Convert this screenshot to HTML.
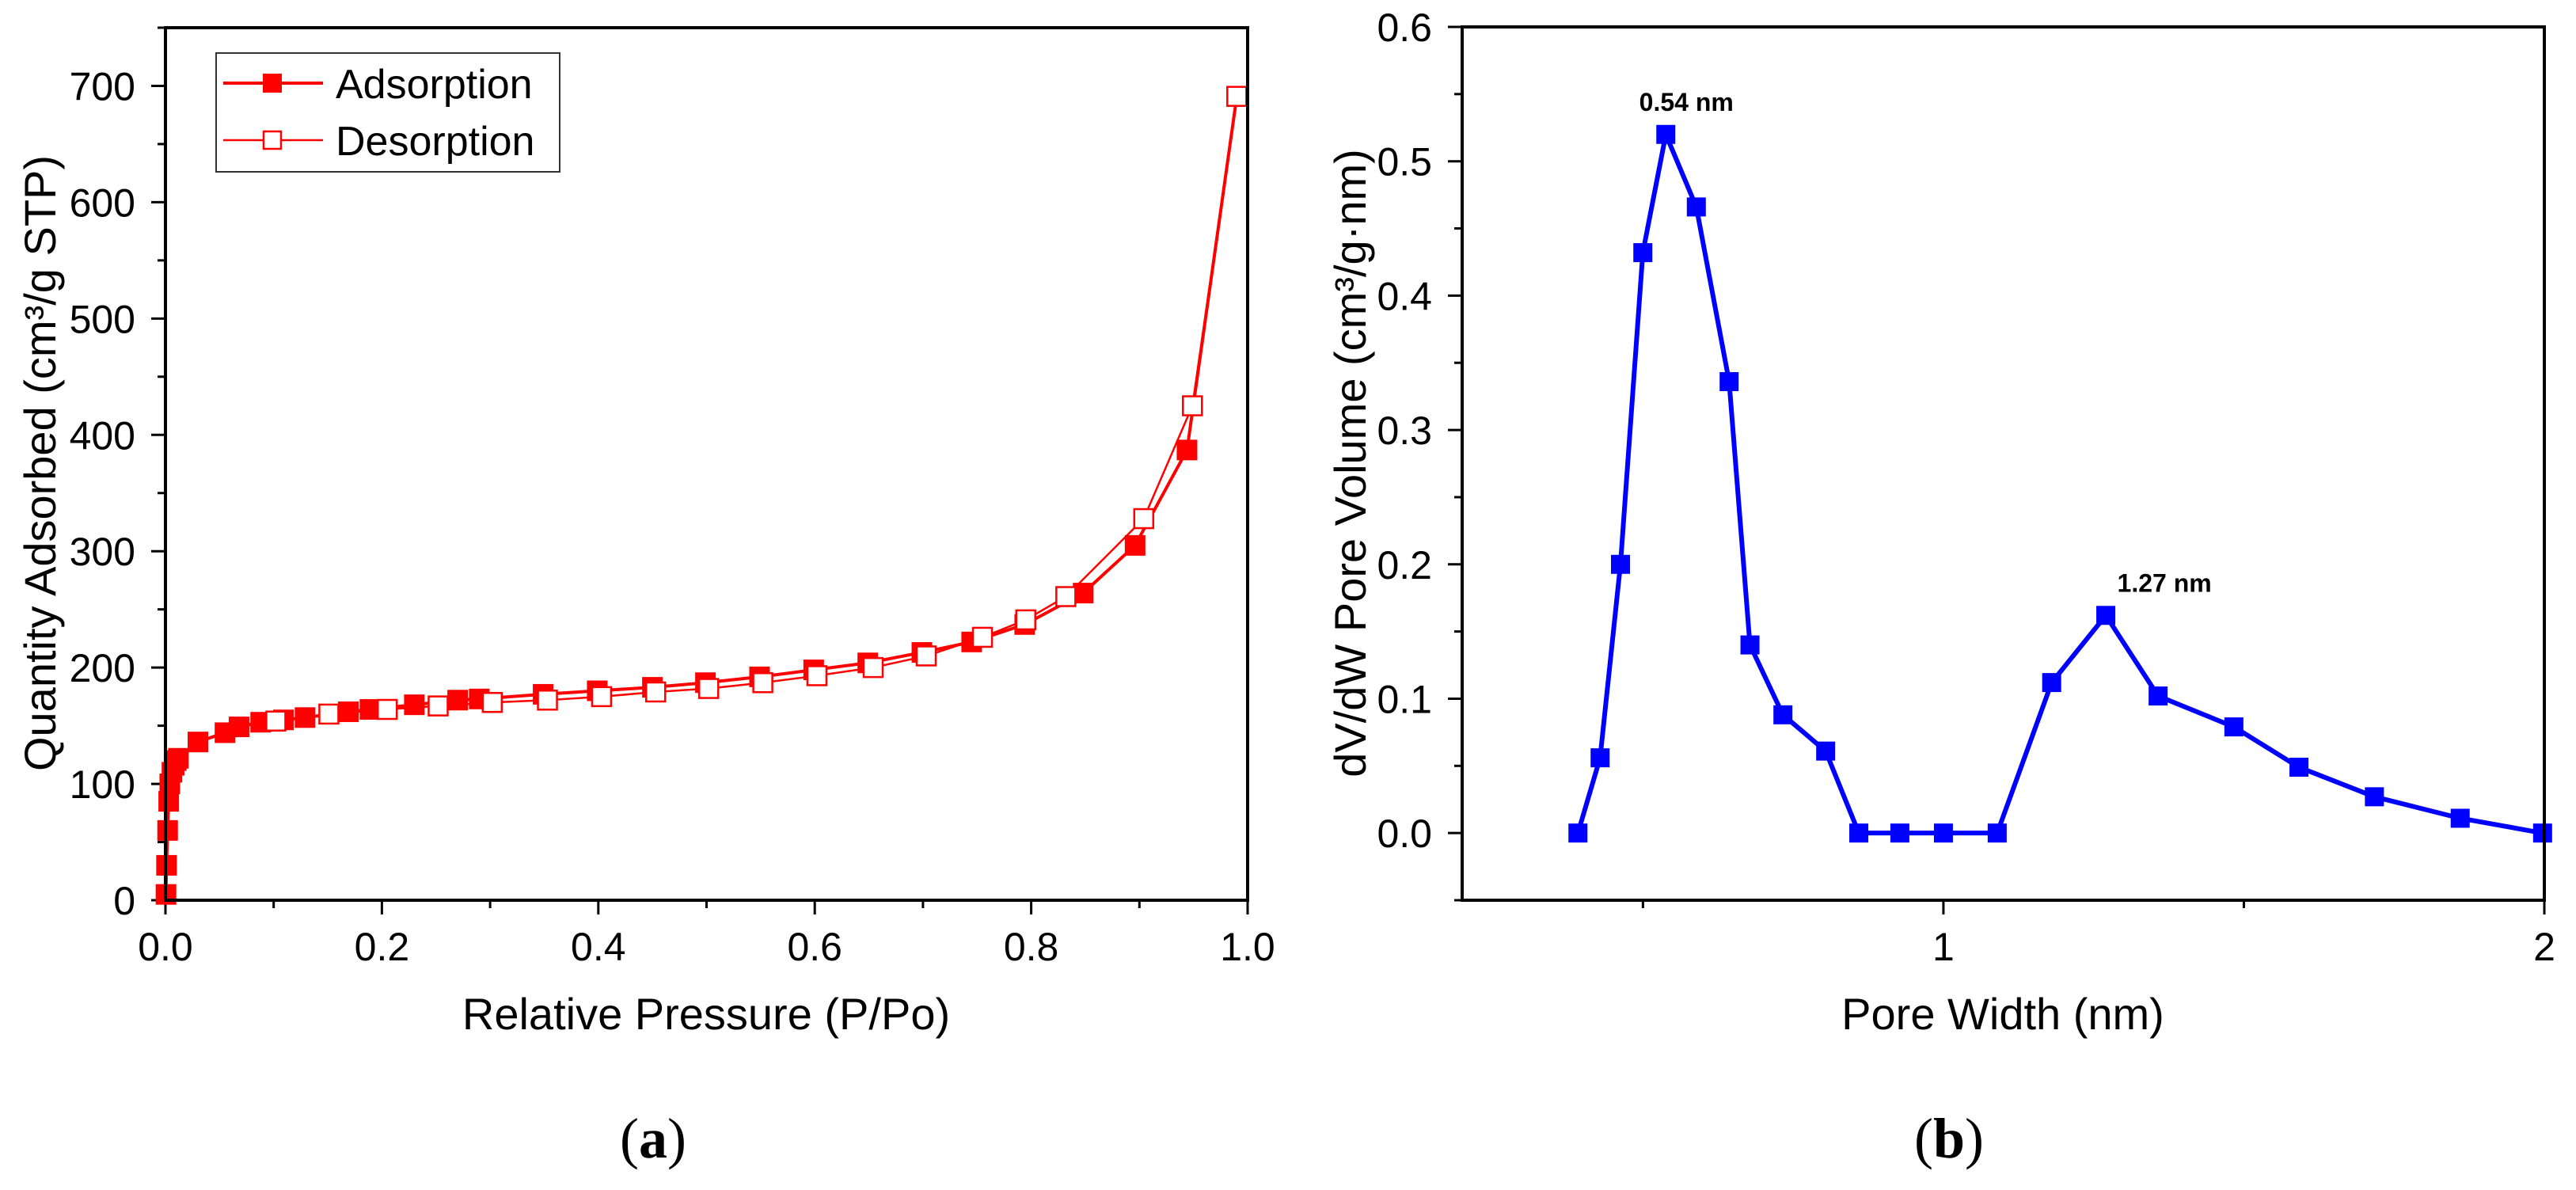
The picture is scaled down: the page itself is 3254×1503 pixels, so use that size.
<!DOCTYPE html>
<html><head><meta charset="utf-8"><style>
html,body{margin:0;padding:0;background:#fff;}
svg{display:block;font-family:"Liberation Sans",Arial,sans-serif;}
</style></head><body>
<svg id="fig" width="3254" height="1503" viewBox="0 0 3254 1503" xmlns="http://www.w3.org/2000/svg"></svg>
<script>
// ---- Chart (a) data ----
const adsP = [0.0005,0.001,0.002,0.003,0.004,0.006,0.008,0.010,0.012,0.030,0.055,0.068,0.088,0.109,0.129,0.169,0.189,0.230,0.270,0.290,0.349,0.399,0.450,0.499,0.549,0.599,0.649,0.699,0.745,0.794,0.848,0.896,0.944,0.990];
const adsQ = [5,30,60,85,100,110,116,120,122,136,144,149,153,155,157,162,164,168,172,173,177,180,183,187,192,198,204,213,222,237,264,305,387,691];
const desP = [0.990,0.949,0.904,0.832,0.795,0.755,0.703,0.654,0.602,0.552,0.502,0.453,0.403,0.353,0.302,0.252,0.205,0.151,0.102];
const desQ = [691,425,328,261,241,226,210,200,193,187,182,179,175,172,170,167,164,160,154];
const aXTicks = [0,0.2,0.4,0.6,0.8,1.0];
const aXTickLabels = ["0.0","0.2","0.4","0.6","0.8","1.0"];
const aYTicks = [0,100,200,300,400,500,600,700];
// ---- Chart (b) data ----
const poreW = [0.656,0.673,0.689,0.707,0.726,0.752,0.781,0.800,0.831,0.873,0.907,0.951,1.0,1.064,1.133,1.206,1.281,1.398,1.507,1.644,1.815,1.996];
const poreV = [0,0.056,0.2,0.432,0.52,0.466,0.336,0.14,0.088,0.061,0,0,0,0,0.112,0.162,0.102,0.079,0.049,0.027,0.011,0];
const bXTicks = [1,2];
const bXTickLabels = ["1","2"];
const bXMinor = [0.7071,1.4142];
const bYTicks = [0,0.1,0.2,0.3,0.4,0.5,0.6];
const bYTickLabels = ["0.0","0.1","0.2","0.3","0.4","0.5","0.6"];
const peakW = [0.726,1.281];
const peakV = [0.52,0.162];
const peakLabels = ["0.54 nm","1.27 nm"];

const NS="http://www.w3.org/2000/svg";
const svg=document.getElementById('fig');
function mk(tag,attrs,parent,text){const e=document.createElementNS(NS,tag);for(const k in attrs)e.setAttribute(k,attrs[k]);if(text!==undefined)e.textContent=text;(parent||svg).appendChild(e);return e;}

// ---- axes (a)
const A={x0:209,x1:1576,y0:1137,y1:35};
const ax=v=>A.x0+(v-0)/(1.0-0)*(A.x1-A.x0);
const ay=v=>A.y0-(v-0)/(750-0)*(A.y0-A.y1);
const gA=mk('g',{});


aXTicks.forEach((t,i)=>{
  const l=mk('line',{x1:ax(t),x2:ax(t),y1:A.y0,y2:A.y0+18,stroke:'#000','stroke-width':3},gA);
  
  const tx=mk('text',{x:ax(t),y:A.y0+76,'font-size':50,'text-anchor':'middle',fill:'#000'},gA,aXTickLabels[i]);
  
  if(i<aXTicks.length-1){const m=(aXTicks[i]+aXTicks[i+1])/2;
    const ml=mk('line',{x1:ax(m),x2:ax(m),y1:A.y0,y2:A.y0+10,stroke:'#000','stroke-width':3},gA);
    }
});
aYTicks.forEach((t,i)=>{
  const l=mk('line',{x1:A.x0-18,x2:A.x0,y1:ay(t),y2:ay(t),stroke:'#000','stroke-width':3},gA);
  
  const tx=mk('text',{x:A.x0-38,y:ay(t)+18,'font-size':50,'text-anchor':'end',fill:'#000'},gA,String(t));
  
  const ml=mk('line',{x1:A.x0-10,x2:A.x0,y1:ay(t+50),y2:ay(t+50),stroke:'#000','stroke-width':3},gA);
  
});
const desPts=desP.map((p,i)=>ax(p)+','+ay(desQ[i])).join(' ');
const dl=mk('polyline',{points:desPts,fill:'none',stroke:'#ff0000','stroke-width':2.5},gA);

const adsPts=adsP.map((p,i)=>ax(p)+','+ay(adsQ[i])).join(' ');
const al=mk('polyline',{points:adsPts,fill:'none',stroke:'#ff0000','stroke-width':4},gA);

adsP.forEach((p,i)=>{
  const r=mk('rect',{x:ax(p)-13,y:ay(adsQ[i])-13,width:26,height:26,fill:'#ff0000'},gA);
  
});
desP.forEach((p,i)=>{
  const r=mk('rect',{x:ax(p)-12,y:ay(desQ[i])-12,width:24,height:24,fill:'#fff',stroke:'#ff0000','stroke-width':2.5},gA);
  
});
const fa=mk('rect',{x:A.x0,y:A.y1,width:A.x1-A.x0,height:A.y0-A.y1,fill:'none',stroke:'#000','stroke-width':4},gA);

const lg=mk('g',{},gA);

mk('rect',{x:273,y:67,width:434,height:150,fill:'#fff',stroke:'#333','stroke-width':2},lg);
const le1=mk('g',{},lg);

mk('line',{x1:282,x2:408,y1:105,y2:105,stroke:'#ff0000','stroke-width':4},le1);
mk('rect',{x:332,y:93,width:24,height:24,fill:'#ff0000'},le1);
mk('text',{x:424,y:124,'font-size':52,fill:'#000'},le1,'Adsorption');
const le2=mk('g',{},lg);

mk('line',{x1:282,x2:408,y1:177,y2:177,stroke:'#ff0000','stroke-width':2.5},le2);
mk('rect',{x:333,y:166,width:22,height:22,fill:'#fff',stroke:'#ff0000','stroke-width':2.5},le2);
mk('text',{x:424,y:196,'font-size':52,fill:'#000'},le2,'Desorption');
const xta=mk('text',{x:892,y:1300,'font-size':56,'text-anchor':'middle',fill:'#000'},gA,'Relative Pressure (P/Po)');

const yta=mk('text',{x:0,y:0,'font-size':56,'text-anchor':'middle',fill:'#000',transform:'translate(70,585) rotate(-90)'},gA,'Quantity Adsorbed (cm³/g STP)');

const pa=mk('text',{x:825,y:1462,'font-size':72,'text-anchor':'middle',fill:'#000','font-family':'"Liberation Serif",serif'},gA);

pa.innerHTML='(<tspan font-weight="bold">a</tspan>)';

// ---- axes (b)
const B={x0:1847,x1:3214,y0:1137,y1:34};
const bxMin=0.574,bxMax=2.0,byMin=-0.05,byMax=0.6;
const bx=v=>B.x0+(Math.log(v)-Math.log(bxMin))/(Math.log(bxMax)-Math.log(bxMin))*(B.x1-B.x0);
const by=v=>B.y0-(v-byMin)/(byMax-byMin)*(B.y0-B.y1);
const gB=mk('g',{});


bXTicks.forEach((t,i)=>{
  const l=mk('line',{x1:bx(t),x2:bx(t),y1:B.y0,y2:B.y0+18,stroke:'#000','stroke-width':3},gB);
  
  const tx=mk('text',{x:bx(t),y:B.y0+76,'font-size':50,'text-anchor':'middle',fill:'#000'},gB,bXTickLabels[i]);
  
});
bXMinor.forEach(t=>{
  const l=mk('line',{x1:bx(t),x2:bx(t),y1:B.y0,y2:B.y0+10,stroke:'#000','stroke-width':3},gB);
  
});
bYTicks.forEach((t,i)=>{
  const l=mk('line',{x1:B.x0-18,x2:B.x0,y1:by(t),y2:by(t),stroke:'#000','stroke-width':3},gB);
  
  const tx=mk('text',{x:B.x0-38,y:by(t)+18,'font-size':50,'text-anchor':'end',fill:'#000'},gB,bYTickLabels[i]);
  
  const ml=mk('line',{x1:B.x0-10,x2:B.x0,y1:by(t-0.05),y2:by(t-0.05),stroke:'#000','stroke-width':3},gB);
  
});
const pl=mk('polyline',{points:poreW.map((w,i)=>bx(w)+','+by(poreV[i])).join(' '),fill:'none',stroke:'#0000ff','stroke-width':6},gB);

poreW.forEach((w,i)=>{
  const r=mk('rect',{x:bx(w)-12,y:by(poreV[i])-12,width:24,height:24,fill:'#0000ff'},gB);
  
});
const peakDx=[26,8];
peakW.forEach((w,i)=>{
  const t=mk('text',{x:bx(w)+peakDx[i],y:by(peakV[i])-30,'font-size':32,'font-weight':'bold','text-anchor':'middle',fill:'#000'},gB,peakLabels[i]);
  
});
const fb=mk('rect',{x:B.x0,y:B.y1,width:B.x1-B.x0,height:B.y0-B.y1,fill:'none',stroke:'#000','stroke-width':4},gB);

const xtb=mk('text',{x:2530,y:1300,'font-size':56,'text-anchor':'middle',fill:'#000'},gB,'Pore Width (nm)');

const ytb=mk('text',{x:0,y:0,'font-size':56,'text-anchor':'middle',fill:'#000',transform:'translate(1725,585) rotate(-90)'},gB,'dV/dW Pore Volume (cm³/g·nm)');

const pb=mk('text',{x:2462,y:1462,'font-size':72,'text-anchor':'middle',fill:'#000','font-family':'"Liberation Serif",serif'},gB);

pb.innerHTML='(<tspan font-weight="bold">b</tspan>)';
</script>
</body></html>
